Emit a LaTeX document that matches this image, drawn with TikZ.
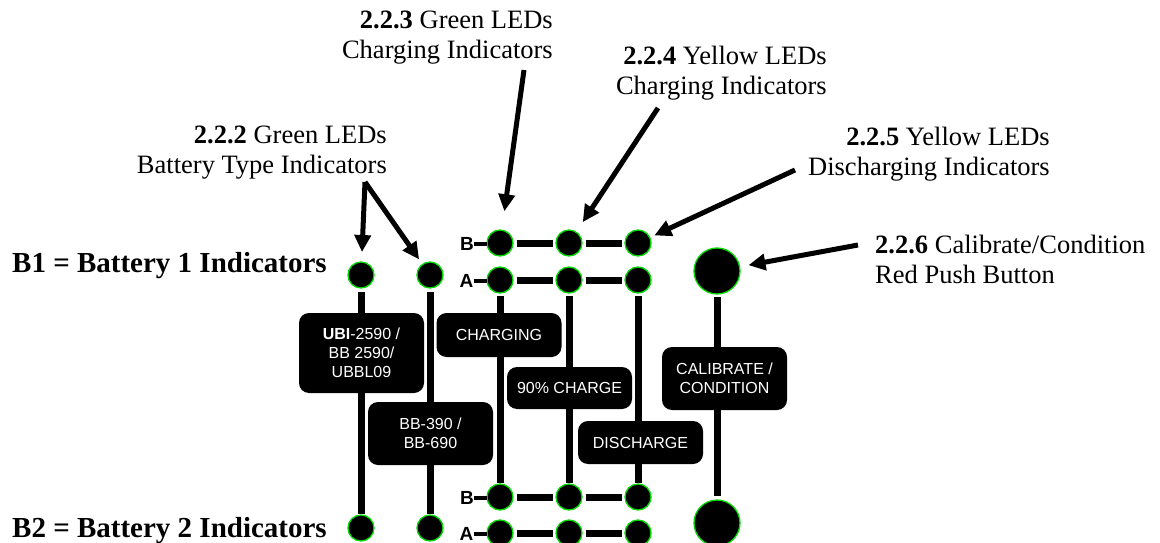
\documentclass[tikz,border=0pt]{standalone}
\usepackage{fontspec}
\setmainfont{Liberation Serif}
\newfontfamily\arialf{Liberation Sans}
\usetikzlibrary{arrows.meta}
\definecolor{ledgreen}{RGB}{0,220,0}
\begin{document}
\begin{tikzpicture}[x=1pt,y=-1pt,
 led/.style={circle,fill=black,draw=ledgreen,line width=1.3pt,minimum size=26pt,inner sep=0pt,outer sep=0pt},
 bigled/.style={led,minimum size=46pt},
 lbox/.style={fill=black,rounded corners=10pt,text=white,font=\arialf\fontsize{16}{19}\selectfont,align=center,minimum width=125pt,inner sep=0pt},
 bar/.style={line width=7pt},
 dashbar/.style={line width=4pt},
 pointer/.style={line width=5pt,-{Triangle[length=17pt,width=16pt]}},
 rowletter/.style={font=\arialf\bfseries\fontsize{19}{19}\selectfont,inner sep=0pt},
 callout/.style={font=\fontsize{26.5}{30}\selectfont,inner sep=0pt},
 banklabel/.style={font=\bfseries\fontsize{29}{33}\selectfont,inner sep=0pt,anchor=base west},
]
\path[fill=white,use as bounding box] (0,0) rectangle (1160,543);

% battery type LEDs
\node[led] (t1) at (361,275) {};
\node[led] (t2) at (430,275) {};
\node[led] (b1) at (361,528) {};
\node[led] (b2) at (430,528) {};
% top LED group
\node[led] (tB1) at (500,243) {};
\node[led] (tB2) at (569,243) {};
\node[led] (tB3) at (638,243) {};
\node[led] (tA1) at (500,280) {};
\node[led] (tA2) at (569,280) {};
\node[led] (tA3) at (638,280) {};
% bottom LED group
\node[led] (bB1) at (500,497) {};
\node[led] (bB2) at (569,497) {};
\node[led] (bB3) at (638,497) {};
\node[led] (bA1) at (500,533) {};
\node[led] (bA2) at (569,533) {};
\node[led] (bA3) at (638,533) {};
% push buttons
\node[bigled] (btn1) at (717,271) {};
\node[bigled] (btn2) at (717,523) {};

% label boxes
\node[lbox,minimum height=80pt] (ubi) at (361.5,353) {\textbf{UBI}-2590 /\\BB 2590/\\UBBL09};
\node[lbox,minimum height=63pt] (bb) at (430.5,433.5) {BB-390 /\\BB-690};
\node[lbox,minimum height=44pt] (chg) at (499,335) {CHARGING};
\node[lbox,minimum height=42pt] (nin) at (569.5,388) {90\% CHARGE};
\node[lbox,minimum height=43pt] (dis) at (640.5,442.5) {DISCHARGE};
\node[lbox,minimum height=63pt] (cal) at (724.5,378.5) {CALIBRATE /\\CONDITION};

% vertical bars
\draw[bar,shorten <=4pt] (t1) -- (t1 |- ubi.north);
\draw[bar,shorten >=1pt] (t1 |- ubi.south) -- (b1);
\draw[bar,shorten <=4pt] (t2) -- (t2 |- bb.north);
\draw[bar,shorten >=1pt] (t2 |- bb.south) -- (b2);
\draw[bar,shorten <=3pt] (tA1) -- (tA1 |- chg.north);
\draw[bar,shorten >=1pt] (tA1 |- chg.south) -- (bB1);
\draw[bar,shorten <=3pt] (tA2) -- (tA2 |- nin.north);
\draw[bar,shorten >=1pt] (tA2 |- nin.south) -- (bB2);
\draw[bar,shorten <=3pt] (tA3) -- (tA3 |- dis.north);
\draw[bar,shorten >=1pt] (tA3 |- dis.south) -- (bB3);
\draw[bar,shorten <=3pt] (btn1) -- (btn1 |- cal.north);
\draw[bar,shorten >=4pt] (btn1 |- cal.south) -- (btn2);

% horizontal bars
\foreach \r in {tB,tA,bB,bA}{
  \draw[bar,shorten <=3.5pt,shorten >=3.5pt] (\r1) -- (\r2);
  \draw[bar,shorten <=3.5pt,shorten >=3.5pt] (\r2) -- (\r3);
}

% row letters
\node[rowletter] (ltB) at (467,244) {B};
\node[rowletter] (ltA) at (466.5,281) {A};
\node[rowletter] (lbB) at (467,498) {B};
\node[rowletter] (lbA) at (466.5,534) {A};
\draw[dashbar] (ltB.east) -- (ltB.east -| tB1.west);
\draw[dashbar] (ltA.east) -- (ltA.east -| tA1.west);
\draw[dashbar] (lbB.east) -- (lbB.east -| bB1.west);
\draw[dashbar] (lbA.east) -- (lbA.east -| bA1.west);

% bank labels
\node[banklabel] (bl1) at (12,272) {B1 = Battery 1 Indicators};
\node[banklabel] (bl2) at (12,537) {B2 = Battery 2 Indicators};

% callouts
\node[callout,anchor=base east] (c222) at (387,143) {\begin{tabular}[t]{@{}r@{}}\textbf{2.2.2} Green LEDs\\Battery Type Indicators\end{tabular}};
\node[callout,anchor=base east] (c223) at (553,29) {\begin{tabular}[t]{@{}r@{}}\textbf{2.2.3} Green LEDs\\Charging Indicators\end{tabular}};
\node[callout,anchor=base east] (c224) at (827,65) {\begin{tabular}[t]{@{}r@{}}\textbf{2.2.4} Yellow LEDs\\Charging Indicators\end{tabular}};
\node[callout,anchor=base east] (c225) at (1050,145) {\begin{tabular}[t]{@{}r@{}}\textbf{2.2.5} Yellow LEDs\\Discharging Indicators\end{tabular}};
\node[callout,anchor=base west] (c226) at (875,253) {\begin{tabular}[t]{@{}l@{}}\textbf{2.2.6} Calibrate/Condition\\Red Push Button\end{tabular}};

% arrows
\coordinate (s222) at (365,182);
\coordinate (s223) at (524,70);
\coordinate (s224) at (658,108);
\coordinate (s225) at (795,170);
\coordinate (s226) at (858,245);
\draw[pointer,shorten >=10pt] (s222) -- (t1);
\draw[pointer,shorten >=6pt] (s222) -- (t2);
\draw[pointer,shorten >=19pt] (s223) -- (tB1);
\draw[pointer,shorten >=12pt] (s224) -- (tB2);
\draw[pointer,shorten >=5pt] (s225) -- (tB3);
\draw[pointer,shorten >=9pt] (s226) -- (btn1);
\end{tikzpicture}
\end{document}
